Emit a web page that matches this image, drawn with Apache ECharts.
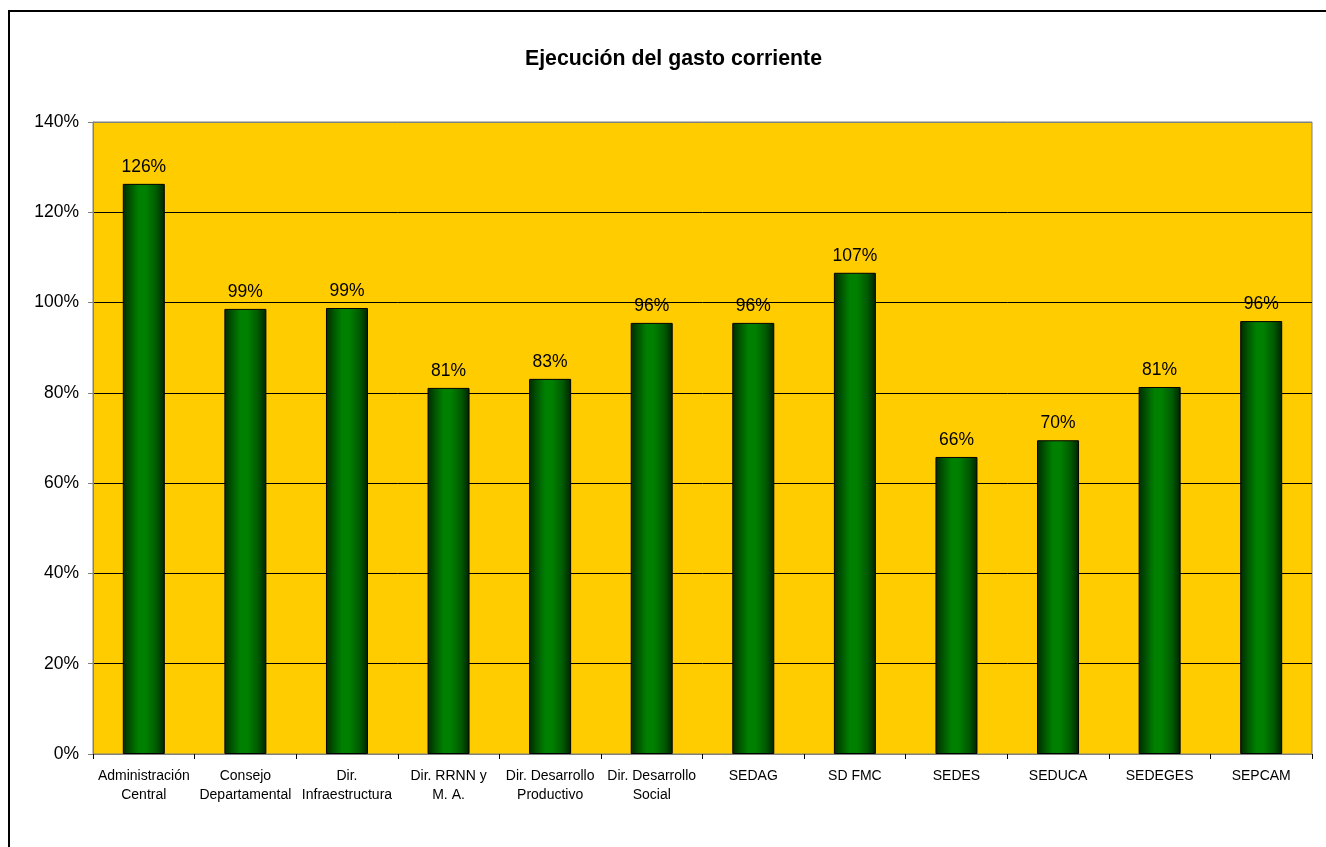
<!DOCTYPE html>
<html>
<head>
<meta charset="utf-8">
<title>Ejecución del gasto corriente</title>
<script src="https://cdn.jsdelivr.net/npm/echarts@6/dist/echarts.min.js"></script>
<style>
  html, body { margin: 0; padding: 0; background: #ffffff; }
  #chart { width: 1326px; height: 847px; }
</style>
</head>
<body>
<div id="chart"></div>
<script>
// Spending units (two-line labels as printed under the axis)
const categories = [
  'Administración\nCentral',
  'Consejo\nDepartamental',
  'Dir.\nInfraestructura',
  'Dir. RRNN y\nM. A.',
  'Dir. Desarrollo\nProductivo',
  'Dir. Desarrollo\nSocial',
  'SEDAG',
  'SD FMC',
  'SEDES',
  'SEDUCA',
  'SEDEGES',
  'SEPCAM'
];

// Execution rate of current expenditure (fraction of budget)
const execution = [1.263, 0.986, 0.988, 0.811, 0.831, 0.955, 0.955, 1.066, 0.658, 0.695, 0.813, 0.959];

// Percentage axis ticks
const yTicks = { min: 0, max: 1.4, interval: 0.2 };

const FONT = '"Liberation Sans", Arial, sans-serif';

// Gridlines are black; the top one coincides with the grey plot frame
const gridCount = Math.round((yTicks.max - yTicks.min) / yTicks.interval) + 1;
const gridColors = Array.from({ length: gridCount }, (_, i) => (i === gridCount - 1 ? '#808080' : '#000'));

const chart = echarts.init(document.getElementById('chart'), null, { renderer: 'canvas' });

chart.setOption({
  backgroundColor: '#ffffff',
  animation: false,
  title: {
    text: 'Ejecución del gasto corriente',
    left: 520,
    top: 44,
    textStyle: { fontFamily: FONT, fontSize: 21.3, fontWeight: 'bold', color: '#000' }
  },
  graphic: [{
    type: 'rect',
    silent: true,
    shape: { x: 9, y: 11, width: 1400, height: 900 },
    style: { fill: 'none', stroke: '#000', lineWidth: 2 }
  }],
  grid: {
    left: 93, right: 14, top: 122, bottom: 93,
    show: true,
    backgroundColor: '#FFCC00',
    borderColor: '#808080',
    borderWidth: 1
  },
  xAxis: {
    type: 'category',
    data: categories,
    boundaryGap: true,
    axisLine: { show: true, lineStyle: { color: '#808080', width: 1 } },
    axisTick: { show: true, alignWithLabel: false, length: 5, lineStyle: { color: '#000' } },
    axisLabel: {
      interval: 0,
      margin: 13,
      color: '#000',
      fontFamily: FONT,
      fontSize: 14,
      lineHeight: 19,
      align: 'center'
    }
  },
  yAxis: {
    type: 'value',
    min: yTicks.min,
    max: yTicks.max,
    interval: yTicks.interval,
    axisLine: { show: true, lineStyle: { color: '#808080', width: 1 } },
    axisTick: { show: true, length: 5, lineStyle: { color: '#808080' } },
    axisLabel: {
      margin: 14,
      color: '#000',
      fontFamily: FONT,
      fontSize: 17.5,
      formatter: v => Math.round(v * 100) + '%'
    },
    splitLine: { show: true, lineStyle: { color: gridColors, width: 1 } }
  },
  series: [{
    type: 'bar',
    data: execution,
    barWidth: 42,
    itemStyle: {
      borderColor: '#000',
      borderWidth: 1,
      color: new echarts.graphic.LinearGradient(0, 0, 1, 0, [
        { offset: 0, color: '#002a00' },
        { offset: 0.18, color: '#005500' },
        { offset: 0.38, color: '#008000' },
        { offset: 0.55, color: '#008000' },
        { offset: 0.8, color: '#005a00' },
        { offset: 1, color: '#002200' }
      ])
    },
    label: {
      show: true,
      position: 'top',
      distance: 8,
      color: '#000',
      fontFamily: FONT,
      fontSize: 17.5,
      formatter: p => Math.round(p.value * 100) + '%'
    }
  }]
});
</script>
</body>
</html>
